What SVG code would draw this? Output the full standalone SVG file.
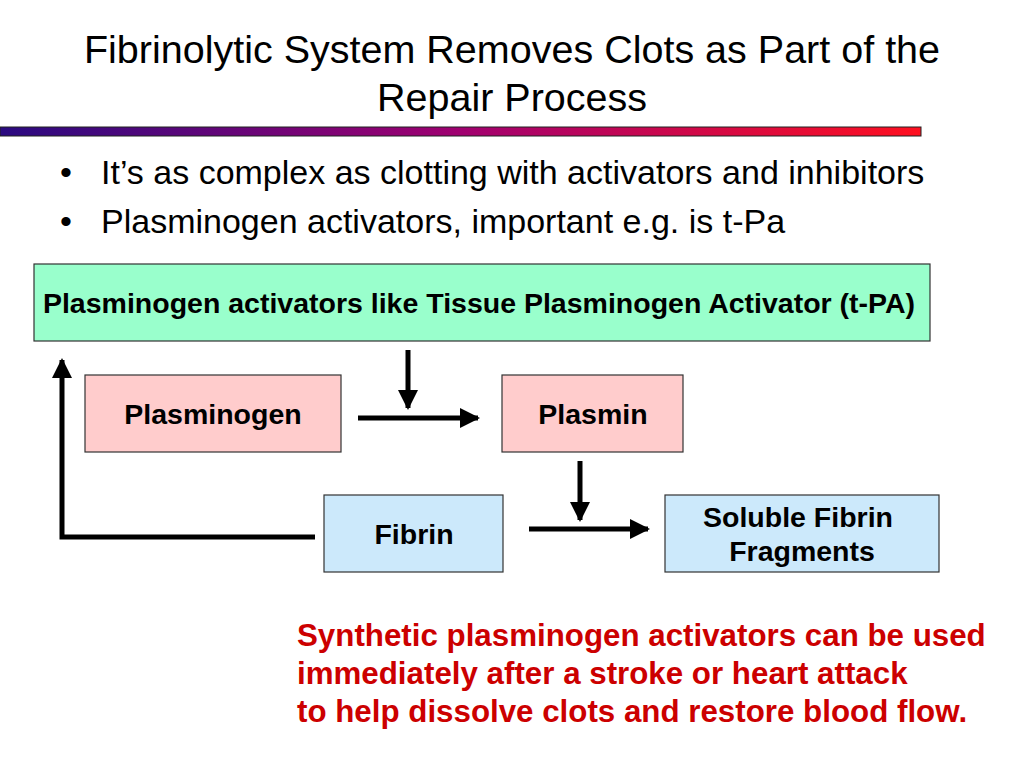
<svg xmlns="http://www.w3.org/2000/svg" width="1024" height="768" viewBox="0 0 1024 768">
<defs>
<linearGradient id="bar" x1="0" y1="0" x2="1" y2="0">
<stop offset="0" stop-color="#2a0a80"/>
<stop offset="0.5" stop-color="#a00070"/>
<stop offset="1" stop-color="#ff1020"/>
</linearGradient>
<marker id="ah" viewBox="0 0 10 10" refX="9" refY="5" markerWidth="4" markerHeight="4" orient="auto" markerUnits="strokeWidth">
<path d="M0,0 L10,5 L0,10 Z" fill="#000"/>
</marker>
</defs>
<style>
.title{font-family:"Liberation Sans",Arial,sans-serif;font-size:39.5px;fill:#000;text-anchor:middle}
.bul{font-family:"Liberation Sans",Arial,sans-serif;font-size:34px;fill:#000}
.lbl{font-family:"Liberation Sans",Arial,sans-serif;font-size:28.5px;font-weight:bold;fill:#000;text-anchor:middle}
.box{stroke:#333;stroke-width:1.2}
.arr{stroke:#000;stroke-width:5;fill:none;marker-end:url(#ah)}
.note{font-family:"Liberation Sans",Arial,sans-serif;font-size:31.3px;font-weight:bold;fill:#cc0000}
</style>
<rect width="1024" height="768" fill="#fff"/>
<text class="title" x="512" y="63">Fibrinolytic System Removes Clots as Part of the</text>
<text class="title" x="512" y="111">Repair Process</text>
<rect x="0" y="127" width="921" height="9" fill="url(#bar)" stroke="#222" stroke-width="1"/>
<text class="bul" x="60" y="184">•</text>
<text class="bul" x="101" y="184">It’s as complex as clotting with activators and inhibitors</text>
<text class="bul" x="60" y="233">•</text>
<text class="bul" x="101" y="233">Plasminogen activators, important e.g. is t-Pa</text>
<g id="tpa">
<rect class="box" x="34" y="264" width="896" height="77" fill="#99ffcc"/>
<text class="lbl" x="479" y="313">Plasminogen activators like Tissue Plasminogen Activator (t-PA)</text>
</g>
<g id="plasminogen">
<rect class="box" x="85" y="375" width="256" height="77" fill="#ffcccc"/>
<text class="lbl" x="213" y="424">Plasminogen</text>
</g>
<g id="plasmin">
<rect class="box" x="502" y="375" width="181" height="77" fill="#ffcccc"/>
<text class="lbl" x="593" y="424">Plasmin</text>
</g>
<g id="fibrin">
<rect class="box" x="324" y="495" width="179" height="77" fill="#cce9fb"/>
<text class="lbl" x="414" y="544">Fibrin</text>
</g>
<g id="fragments">
<rect class="box" x="665" y="495" width="274" height="77" fill="#cce9fb"/>
<text class="lbl" x="798" y="527">Soluble Fibrin</text>
<text class="lbl" x="802" y="561">Fragments</text>
</g>
<g id="connectors">
<line class="arr" x1="408" y1="350" x2="408" y2="408"/>
<line class="arr" x1="358" y1="418" x2="478" y2="418"/>
<line class="arr" x1="580" y1="461" x2="580" y2="520"/>
<line class="arr" x1="529" y1="529" x2="648" y2="529"/>
<polyline class="arr" points="315,537 62,537 62,360"/>
</g>
<text class="note" x="297" y="646">Synthetic plasminogen activators can be used</text>
<text class="note" x="297" y="684">immediately after a stroke or heart attack</text>
<text class="note" x="297" y="722">to help dissolve clots and restore blood flow.</text>
</svg>
